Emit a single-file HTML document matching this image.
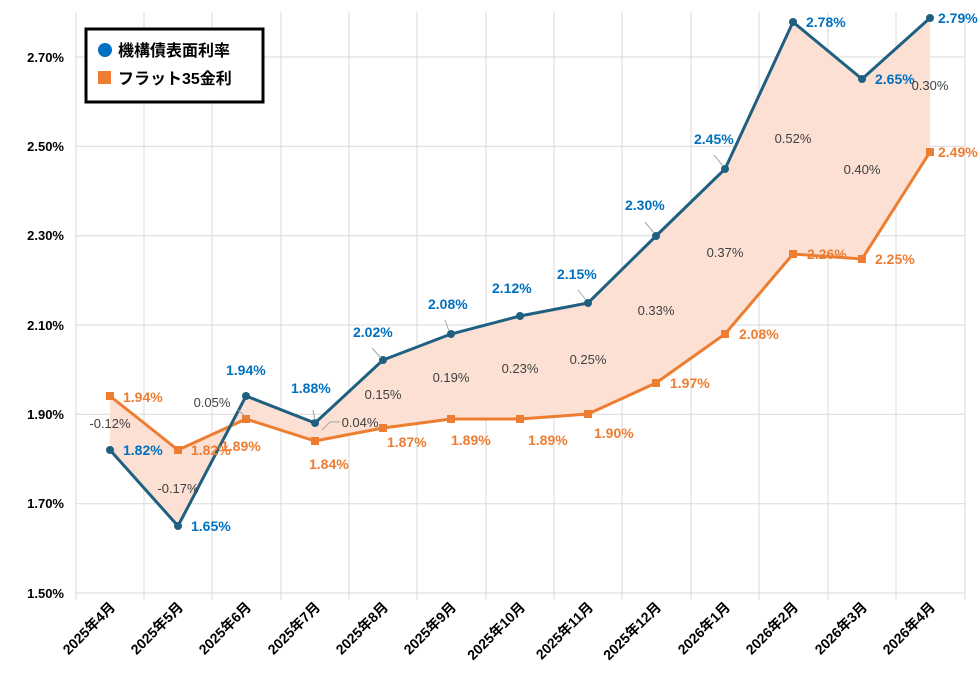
<!DOCTYPE html>
<html><head><meta charset="utf-8"><style>
body{margin:0;background:#fff}
svg text{font-family:"Liberation Sans","Noto Sans CJK JP",sans-serif}
</style></head><body>
<svg width="979" height="675" viewBox="0 0 979 675" xmlns="http://www.w3.org/2000/svg">
<g stroke="#d9d9d9" stroke-width="1">
<line x1="76" y1="593" x2="965" y2="593"/><line x1="76" y1="503.7" x2="965" y2="503.7"/><line x1="76" y1="414.3" x2="965" y2="414.3"/><line x1="76" y1="325" x2="965" y2="325"/><line x1="76" y1="235.7" x2="965" y2="235.7"/><line x1="76" y1="146.3" x2="965" y2="146.3"/><line x1="76" y1="57" x2="965" y2="57"/>
<line x1="76" y1="12" x2="76" y2="600"/><line x1="144" y1="12" x2="144" y2="600"/><line x1="212" y1="12" x2="212" y2="600"/><line x1="281" y1="12" x2="281" y2="600"/><line x1="349" y1="12" x2="349" y2="600"/><line x1="417" y1="12" x2="417" y2="600"/><line x1="486" y1="12" x2="486" y2="600"/><line x1="554" y1="12" x2="554" y2="600"/><line x1="622" y1="12" x2="622" y2="600"/><line x1="691" y1="12" x2="691" y2="600"/><line x1="759" y1="12" x2="759" y2="600"/><line x1="828" y1="12" x2="828" y2="600"/><line x1="896" y1="12" x2="896" y2="600"/><line x1="965" y1="12" x2="965" y2="600"/>
</g>
<polygon fill="#fbe0d3" points="110,450 178,526 246,396 315,423 383,360 451,334 520,316 588,303 656,236 725,169 793,22 862,79 930,18 930,152 862,259 793,254 725,334 656,383 588,414 520,419 451,419 383,428 315,441 246,419 178,450 110,396"/>
<polyline fill="none" stroke="#ed7d31" stroke-width="3" points="110,396 178,450 246,419 315,441 383,428 451,419 520,419 588,414 656,383 725,334 793,254 862,259 930,152"/>
<polyline fill="none" stroke="#1f5f80" stroke-width="3" points="110,450 178,526 246,396 315,423 383,360 451,334 520,316 588,303 656,236 725,169 793,22 862,79 930,18"/>
<g fill="#ed7d31"><rect x="106" y="392" width="8" height="8"/><rect x="174" y="446" width="8" height="8"/><rect x="242" y="415" width="8" height="8"/><rect x="311" y="437" width="8" height="8"/><rect x="379" y="424" width="8" height="8"/><rect x="447" y="415" width="8" height="8"/><rect x="516" y="415" width="8" height="8"/><rect x="584" y="410" width="8" height="8"/><rect x="652" y="379" width="8" height="8"/><rect x="721" y="330" width="8" height="8"/><rect x="789" y="250" width="8" height="8"/><rect x="858" y="255" width="8" height="8"/><rect x="926" y="148" width="8" height="8"/></g>
<g fill="#1f5f80"><circle cx="110" cy="450" r="4"/><circle cx="178" cy="526" r="4"/><circle cx="246" cy="396" r="4"/><circle cx="315" cy="423" r="4"/><circle cx="383" cy="360" r="4"/><circle cx="451" cy="334" r="4"/><circle cx="520" cy="316" r="4"/><circle cx="588" cy="303" r="4"/><circle cx="656" cy="236" r="4"/><circle cx="725" cy="169" r="4"/><circle cx="793" cy="22" r="4"/><circle cx="862" cy="79" r="4"/><circle cx="930" cy="18" r="4"/></g>
<g stroke="#a6a6a6" stroke-width="1" fill="none"><polyline points="372,348 381,358"/><polyline points="645,222 654,233"/><polyline points="714,155 723,166"/><polyline points="445,320 449,331"/><polyline points="578,290 586,300"/><polyline points="313,410 315,420"/><polyline points="238,410 246,417"/><polyline points="322,430 330,422 340,422"/></g>
<g font-size="13" font-weight="bold" fill="#000" text-anchor="end">
<text x="64" y="598">1.50%</text><text x="64" y="508">1.70%</text><text x="64" y="419">1.90%</text><text x="64" y="330">2.10%</text><text x="64" y="240">2.30%</text><text x="64" y="151">2.50%</text><text x="64" y="62">2.70%</text>
</g>
<g font-size="14" font-weight="bold" fill="#0070c0">
<text x="123" y="455">1.82%</text><text x="191" y="531">1.65%</text><text x="226" y="375">1.94%</text><text x="291" y="393">1.88%</text><text x="353" y="337">2.02%</text><text x="428" y="309">2.08%</text><text x="492" y="293">2.12%</text><text x="557" y="279">2.15%</text><text x="625" y="210">2.30%</text><text x="694" y="144">2.45%</text><text x="806" y="27">2.78%</text><text x="875" y="84">2.65%</text><text x="938" y="23">2.79%</text>
</g>
<g font-size="14" font-weight="bold" fill="#ed7d31">
<text x="123" y="402">1.94%</text><text x="191" y="455">1.82%</text><text x="221" y="451">1.89%</text><text x="309" y="469">1.84%</text><text x="387" y="447">1.87%</text><text x="451" y="445">1.89%</text><text x="528" y="445">1.89%</text><text x="594" y="438">1.90%</text><text x="670" y="388">1.97%</text><text x="739" y="339">2.08%</text><text x="807" y="259">2.26%</text><text x="875" y="264">2.25%</text><text x="938" y="157">2.49%</text>
</g>
<g font-size="13" fill="#404040" text-anchor="middle">
<text x="110" y="428">-0.12%</text><text x="178" y="493">-0.17%</text><text x="212" y="407">0.05%</text><text x="360" y="427">0.04%</text><text x="383" y="399">0.15%</text><text x="451" y="382">0.19%</text><text x="520" y="373">0.23%</text><text x="588" y="364">0.25%</text><text x="656" y="315">0.33%</text><text x="725" y="257">0.37%</text><text x="793" y="143">0.52%</text><text x="862" y="174">0.40%</text><text x="930" y="90">0.30%</text>
</g>
<g font-size="14" font-weight="bold" fill="#000" text-anchor="end">
<text transform="translate(116,608) rotate(-45)">2025年4月</text><text transform="translate(184,608) rotate(-45)">2025年5月</text><text transform="translate(252,608) rotate(-45)">2025年6月</text><text transform="translate(321,608) rotate(-45)">2025年7月</text><text transform="translate(389,608) rotate(-45)">2025年8月</text><text transform="translate(457,608) rotate(-45)">2025年9月</text><text transform="translate(526,608) rotate(-45)">2025年10月</text><text transform="translate(594,608) rotate(-45)">2025年11月</text><text transform="translate(662,608) rotate(-45)">2025年12月</text><text transform="translate(731,608) rotate(-45)">2026年1月</text><text transform="translate(799,608) rotate(-45)">2026年2月</text><text transform="translate(868,608) rotate(-45)">2026年3月</text><text transform="translate(936,608) rotate(-45)">2026年4月</text>
</g>
<rect x="86" y="29" width="177" height="73" fill="#fff" stroke="#000" stroke-width="3"/>
<circle cx="105" cy="50" r="7" fill="#0070c0"/>
<rect x="98" y="71" width="13" height="13" fill="#ed7d31"/>
<g font-size="16" font-weight="bold" fill="#000"><text x="118" y="56">機構債表面利率</text><text x="118" y="84">フラット35金利</text></g>
</svg>
</body></html>
